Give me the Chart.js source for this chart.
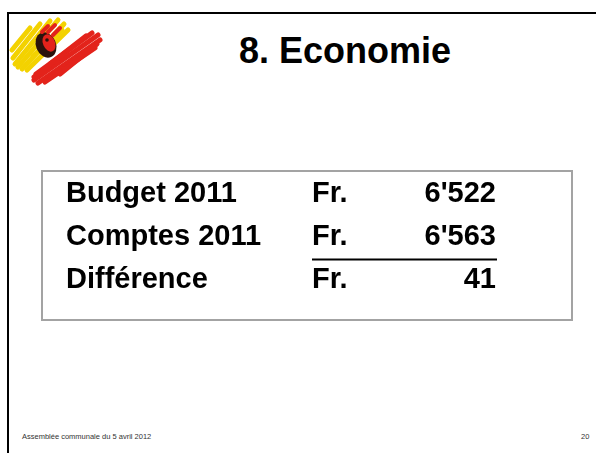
<!DOCTYPE html>
<html>
<head>
<meta charset="utf-8">
<script src="https://cdn.jsdelivr.net/npm/chart.js@4.4.1/dist/chart.umd.min.js"></script>
<style>
  html, body { margin: 0; padding: 0; background: #fff; }
  body { width: 596px; height: 453px; position: relative; overflow: hidden; font-family: "Liberation Sans", Arial, sans-serif; }
  #frame { position: absolute; left: 7px; top: 12px; right: -10px; bottom: -10px; border-left: 2px solid #000; border-top: 2px solid #000; }
  #title { position: absolute; left: 239px; top: 33px; font-size: 36px; line-height: 36px; font-weight: bold; color: #000; white-space: nowrap; }
  .foot { position: absolute; top: 433px; font-size: 7.5px; line-height: 8px; color: #333; white-space: nowrap; }
  #wrap { position: absolute; left: 0; top: 0; width: 596px; height: 453px; }
</style>
</head>
<body>
<div id="frame"></div>
<div id="title">8. Economie</div>
<div class="foot" style="left:22px">Assemblée communale du 5 avril 2012</div>
<div class="foot" style="left:581px">20</div>
<div id="wrap"><canvas id="myChart" width="596" height="453"></canvas></div>
<script>
// rows of the table
const rowLabels = ['Budget 2011', 'Comptes 2011', 'Différence']
const currency = ['Fr.', 'Fr.', 'Fr.']
const amounts = [6522, 6563, 41]
const underlinedRow = 1

const boldFont = '700 29px "Liberation Sans", Arial, sans-serif'

function fmt(v) {
    return String(v).replace(/\B(?=(\d{3})+(?!\d))/g, "'")
}

function strokes(ctx, list, color, w) {
    ctx.strokeStyle = color
    ctx.lineWidth = w
    list.forEach(s => { ctx.beginPath(); ctx.moveTo(s[0], s[1]); ctx.lineTo(s[2], s[3]); ctx.stroke() })
}

// logo brush strokes + table frame
const slideDecor = {
    id: 'slideDecor',
    beforeDraw(chart) {
        const ctx = chart.ctx
        const area = chart.chartArea
        const yAxis = chart.scales.y
        ctx.save()
        // table box
        ctx.strokeStyle = '#a3a3a3'
        ctx.lineWidth = 2
        ctx.strokeRect(yAxis.left - 24, area.top - 1, (area.right + 76) - (yAxis.left - 24), area.bottom + 19 - (area.top - 1))

        // logo
        ctx.lineCap = 'round'
        strokes(ctx, [[13, 58, 40, 24], [15, 64, 50, 21], [18, 67, 58, 20], [22, 69, 64, 24],
                      [27, 70, 68, 30], [12, 50, 30, 28], [33, 56, 62, 30]], '#f3d200', 5)
        strokes(ctx, [[34, 80, 98, 35], [38, 83, 100, 40], [36, 74, 92, 33], [45, 82, 95, 48],
                      [50, 64, 86, 36], [34, 77, 64, 54], [60, 74, 97, 44]], '#e3231b', 5)
        // rooster head
        ctx.fillStyle = '#2b130c'
        ctx.beginPath()
        ctx.ellipse(46, 45, 10, 13, -0.4, 0, Math.PI * 2)
        ctx.fill()
        ctx.fillStyle = '#e3231b'
        ctx.beginPath()
        ctx.ellipse(49, 43, 6, 9, -0.4, 0, Math.PI * 2)
        ctx.fill()
        strokes(ctx, [[42, 32, 48, 26], [48, 32, 55, 25], [53, 35, 60, 28]], '#e3231b', 4)
        ctx.fillStyle = '#2b130c'
        ctx.beginPath()
        ctx.arc(47, 40, 1.8, 0, Math.PI * 2)
        ctx.fill()
        ctx.restore()
    },
    afterDatasetsDraw(chart) {
        const ctx = chart.ctx
        const area = chart.chartArea
        const yAxis = chart.scales.y
        ctx.save()
        ctx.font = boldFont
        ctx.fillStyle = '#000'
        ctx.textBaseline = 'middle'
        rowLabels.forEach((lab, i) => {
            const y = yAxis.getPixelForValue(i)
            ctx.textAlign = 'left'
            ctx.fillText(currency[i], area.left, y)
            ctx.textAlign = 'right'
            ctx.fillText(fmt(amounts[i]), area.right, y)
            if (i === underlinedRow) {
                ctx.fillRect(area.left, y + 22, area.right - area.left + 1, 2)
            }
        })
        ctx.restore()
    }
}

const ctx = document.getElementById('myChart').getContext('2d')
const myChart = new Chart(ctx, {
    type: 'bar',
    data: {
        labels: rowLabels,
        datasets: [{
            data: amounts,
            backgroundColor: 'rgba(0,0,0,0)',
            borderWidth: 0
        }]
    },
    plugins: [slideDecor],
    options: {
        indexAxis: 'y',
        responsive: false,
        devicePixelRatio: 1,
        animation: false,
        events: [],
        layout: { padding: { left: 66, top: 172, right: 100, bottom: 152 } },
        plugins: { legend: { display: false }, tooltip: { enabled: false }, title: { display: false } },
        scales: {
            x: { display: false, min: 0 },
            y: {
                grid: { display: false },
                border: { display: false },
                ticks: { color: '#000', font: { family: '"Liberation Sans", Arial, sans-serif', size: 29, weight: 'bold' }, crossAlign: 'far' },
                afterFit(scale) { scale.width = 246 }
            }
        }
    }
})
</script>
</body>
</html>
